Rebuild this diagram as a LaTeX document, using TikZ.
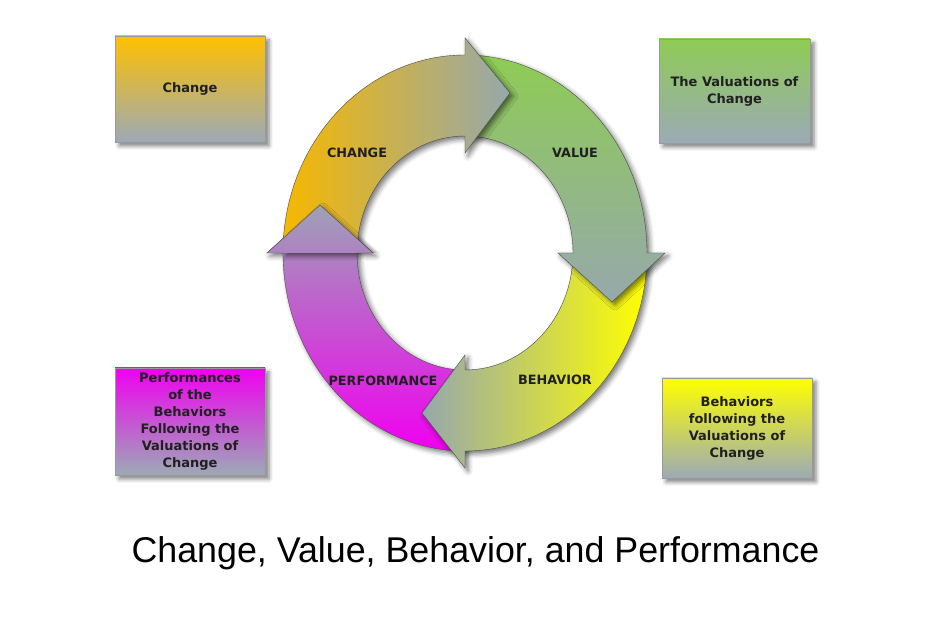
\documentclass[tikz,border=0pt]{standalone}
\usepackage{fontspec}
\setmainfont{Liberation Sans}
\newfontfamily\verdfont{DejaVu Sans}
\usepackage{tikz}
\usetikzlibrary{positioning, shadows.blur}

\definecolor{chgorange}{RGB}{246,184,0}
\definecolor{boxorange}{RGB}{255,192,0}
\definecolor{valgreen}{RGB}{142,204,84}
\definecolor{behyellow}{RGB}{255,255,0}
\definecolor{perfmagenta}{RGB}{240,0,240}
\definecolor{ringgray}{RGB}{150,168,172}
\definecolor{perfgray}{RGB}{158,162,182}
\definecolor{boxgray}{RGB}{156,170,182}
\definecolor{textdark}{RGB}{32,32,32}

\begin{document}
\begin{tikzpicture}[x=1pt, y=1pt,
      ring_arrow/.style={draw=gray!60!black, line width=0.4pt,
        blur shadow={shadow xshift=3pt, shadow yshift=-3pt, shadow blur radius=5pt, shadow opacity=55}},
      info_box/.style={draw=gray!80, minimum width=150pt, minimum height=106pt, align=center,
        inner sep=2pt, text=textdark, font=\verdfont\bfseries\fontsize{13}{17}\selectfont,
        blur shadow={shadow xshift=4pt, shadow yshift=-4pt, shadow blur radius=4pt, shadow opacity=50}},
      ring_label/.style={text=textdark, font=\verdfont\bfseries\fontsize{12.8}{15}\selectfont}
    ]
      \useasboundingbox (0,0) rectangle (928,617);

      % ring arrows (performance first, redrawn on top at the end)
      \shade[ring_arrow, bottom color=perfmagenta, top color=perfgray]
        (465,166) arc[start angle=270, end angle=180, x radius=182, y radius=198]
        -- (267,364) -- (320,412) -- (373,364) -- (357,364)
        arc[start angle=180, end angle=270, x radius=108, y radius=117] -- cycle;
      \shade[ring_arrow, right color=behyellow, left color=ringgray]
        (647,364) arc[start angle=0, end angle=-90, x radius=182, y radius=198]
        -- (465,149) -- (422,204) -- (465,262) -- (465,247)
        arc[start angle=-90, end angle=0, x radius=108, y radius=117] -- cycle;
      \shade[ring_arrow, top color=valgreen, bottom color=ringgray]
        (465,562) arc[start angle=90, end angle=0, x radius=182, y radius=198]
        -- (665,364) -- (612,315) -- (558,364) -- (573,364)
        arc[start angle=0, end angle=90, x radius=108, y radius=117] -- cycle;
      \shade[ring_arrow, left color=chgorange, right color=ringgray]
        (283,364) arc[start angle=180, end angle=90, x radius=182, y radius=198]
        -- (465,579) -- (510,524) -- (465,464) -- (465,481)
        arc[start angle=90, end angle=180, x radius=108, y radius=117] -- cycle;
      \begin{scope}
        \clip (250,364) rectangle (465,440);
        \shade[ring_arrow, bottom color=perfmagenta, top color=perfgray]
          (465,166) arc[start angle=270, end angle=180, x radius=182, y radius=198]
          -- (267,364) -- (320,412) -- (373,364) -- (357,364)
          arc[start angle=180, end angle=270, x radius=108, y radius=117] -- cycle;
      \end{scope}

      \node[ring_label] (lbl_change) at (357,464) {CHANGE};
      \node[ring_label] (lbl_value) at (575,464) {VALUE};
      \node[ring_label] (lbl_behav) at (555,237) {BEHAVIOR};
      \node[ring_label] (lbl_perf) at (383,236) {PERFORMANCE};

      % corner boxes
      \node[info_box, top color=boxorange, bottom color=boxgray] (box_change) at (190,528) {Change};
      \node[info_box, top color=valgreen, bottom color=boxgray, minimum width=151pt, minimum height=104pt]
        (box_value) at (734.5,526) {The Valuations of\\Change};
      \node[info_box, top color=perfmagenta, bottom color=boxgray, minimum height=107pt]
        (box_perf) at (190,195.5) {Performances\\of the\\Behaviors\\Following the\\Valuations of\\Change};
      \node[info_box, top color=behyellow, bottom color=boxgray, minimum height=100pt]
        (box_behav) at (737,189) {Behaviors\\following the\\Valuations of\\Change};

      \node[anchor=base, font=\fontsize{35.8}{40}\selectfont] (title) at (475.5,54)
        {Change, Value, Behavior, and Performance};
    \end{tikzpicture}
\end{document}
